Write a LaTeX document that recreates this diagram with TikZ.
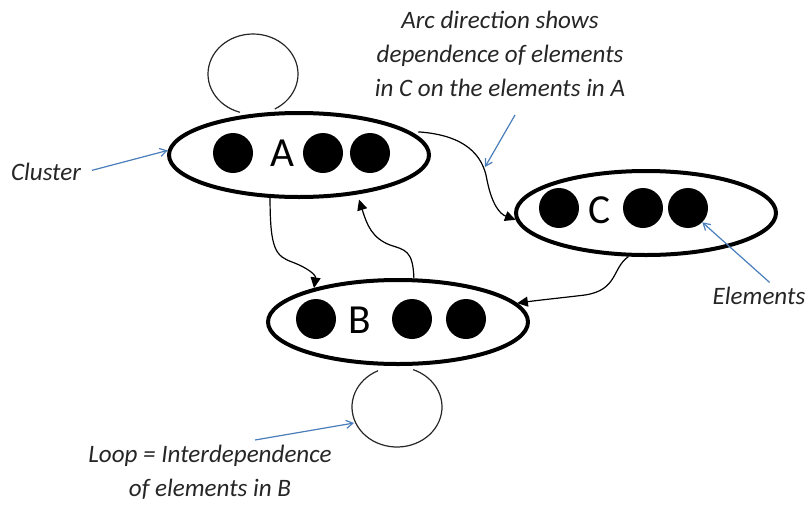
\documentclass[tikz,border=0pt]{standalone}
\usepackage{fontspec}
\setmainfont{Carlito}
\usetikzlibrary{shapes.geometric,arrows.meta}
\definecolor{noteblue}{RGB}{74,126,187}

\begin{document}
\begin{tikzpicture}[x=0.75pt, y=-0.75pt,
  cluster/.style={draw, ellipse, line width=3pt, minimum width=195pt, minimum height=63pt, inner sep=0pt},
  element/.style={circle, fill=black, minimum size=30pt, inner sep=0pt},
  clname/.style={font=\fontsize{31}{31}\selectfont, inner sep=0pt},
  note/.style={font=\fontsize{18.8}{25.5}\selectfont\itshape, align=center, text=black!85},
  link/.style={line width=0.9pt, -{Triangle[length=8pt,width=7.5pt]}},
  pointer/.style={noteblue, line width=0.9pt, -{Straight Barb[length=5pt,width=6pt]}},
  selfloop/.style={line width=0.9pt, black!85}]
  \useasboundingbox (0,0) rectangle (807,504);

  % clusters
  \node (A) at (299,155) [cluster] {};
  \node (B) at (398,322) [cluster] {};
  \node (C) at (646,213) [cluster] {};

  \node (a1) at (233,153) [element] {};
  \node (a2) at (323,153) [element] {};
  \node (a3) at (370,153) [element] {};
  \node (la) at (282,153) [clname] {A};

  \node (b1) at (316,319) [element] {};
  \node (b2) at (412,319) [element] {};
  \node (b3) at (466,319) [element] {};
  \node (lb) at (360,320) [clname] {B};

  \node (c1) at (559,208) [element] {};
  \node (c2) at (643,208) [element] {};
  \node (c3) at (688,208) [element] {};
  \node (lc) at (600,210) [clname] {C};

  % loops
  \coordinate (loopA) at (253,74);
  \coordinate (loopB) at (397,407);
  \draw[selfloop] ([shift={(107:45 and 40)}]loopA) arc[start angle=107, end angle=421, x radius=45, y radius=40];
  \draw[selfloop] ([shift={(291:45 and 40)}]loopB) arc[start angle=291, end angle=605, x radius=45, y radius=40];

  % arcs between clusters
  \draw[link] (A.236) .. controls (270,250) and (276,256) .. (292,262) .. controls (308,268) and (316,275) .. (B.158);
  \draw[link, shorten >=4pt] (B.70) .. controls (413,250) and (405,250) .. (390,245) .. controls (372,238) and (367,225) .. (A.326);
  \draw[link, shorten <=6pt] (A.12) .. controls (465,135) and (483,155) .. (487,180) .. controls (492,205) and (500,214) .. (C.183);
  \draw[link] (C.248) .. controls (612,268) and (618,290) .. (585,295) .. controls (560,298) and (540,300) .. (B.9);

  % notes
  \node (clusternote) at (46,172) [note] {Cluster};
  \node (arcnote) at (500,54) [note] {Arc direction shows\\dependence of elements\\in C on the elements in A};
  \node (elemnote) at (759,296) [note] {Elements};
  \node (loopnote) at (210,472) [note] {Loop = Interdependence\\of elements in B};

  \coordinate (arctail) at (515,115);
  \coordinate (archead) at (485,167);
  \coordinate (looptail) at (255,440);
  \coordinate (loophead) at (354,423);

  \draw[pointer, shorten <=5pt] (clusternote.east) -- (A.178);
  \draw[pointer] (arctail) -- (archead);
  \draw[pointer] ([xshift=8pt]elemnote.north) -- (c3.-45);
  \draw[pointer] (looptail) -- (loophead);
\end{tikzpicture}
\end{document}
